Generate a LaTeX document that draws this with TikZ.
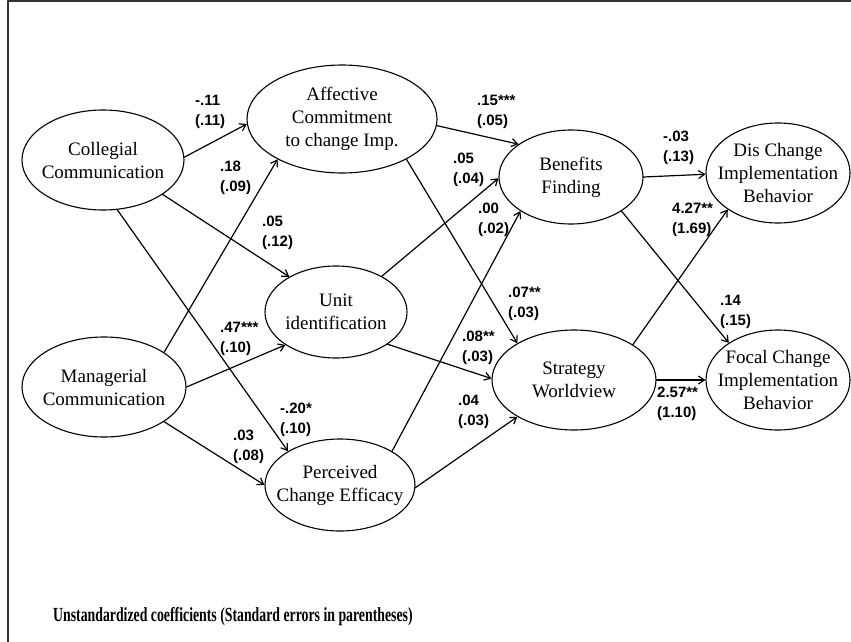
\documentclass[tikz,border=0pt]{standalone}
\usepackage{fontspec}
\setmainfont{Liberation Serif}
\setsansfont{Liberation Sans}
\newfontfamily\notefont[FakeStretch=0.69]{Liberation Serif}
\usetikzlibrary{shapes.geometric,arrows.meta}

\begin{document}
\begin{tikzpicture}[x=1pt,y=1pt,line cap=round,line join=round,
  latent/.style={draw,ellipse,line width=1.1pt,inner sep=-20pt,align=center,
    font=\fontsize{19}{23}\selectfont},
  path/.style={line width=1.2pt,-{Straight Barb[length=6pt,width=8pt]}},
  coef/.style={anchor=west,align=left,inner sep=0pt,
    font=\sffamily\bfseries\fontsize{15}{20}\selectfont}]
  \useasboundingbox (0,0) rectangle (851,-642);
  \draw[line width=2pt,black!80] (8,-642) -- (8,-1.5) -- (851,-1.5);
  % latent variables
  \node[latent,minimum width=162pt,minimum height=100pt] (coll) at (103,-160) {Collegial\\Communication};
  \node[latent,minimum width=164pt,minimum height=100pt] (man) at (104,-387) {Managerial\\Communication};
  \node[latent,minimum width=190pt,minimum height=108pt] (aff) at (342,-119) {Affective\\Commitment\\to change Imp.};
  \node[latent,minimum width=142pt,minimum height=92pt] (unit) at (336,-312) {Unit\\identification};
  \node[latent,minimum width=150pt,minimum height=92pt] (perc) at (340,-485) {Perceived\\Change Efficacy};
  \node[latent,minimum width=144pt,minimum height=94pt] (ben) at (571,-177) {Benefits\\Finding};
  \node[latent,minimum width=164pt,minimum height=100pt] (strat) at (574,-380) {Strategy\\Worldview};
  \node[latent,minimum width=144pt,minimum height=100pt] (dis) at (778,-173) {Dis Change\\Implementation\\Behavior};
  \node[latent,minimum width=144pt,minimum height=100pt] (foc) at (778,-380) {Focal Change\\Implementation\\Behavior};
  % paths
  \draw[path] (coll.2) -- (aff.183);
  \draw[path] (coll.330) -- (unit.143);
  \draw[path] (coll.286) -- (perc.147);
  \draw[path] (man.30) -- (aff.212);
  \draw[path] (man.0) -- (unit.213);
  \draw[path] (man.330) -- (perc.180);
  \draw[path] (aff.356) -- (ben.148);
  \draw[path] (aff.328) -- (strat.147);
  \draw[path] (unit.38) -- (ben.181);
  \draw[path] (unit.328) -- (strat.179);
  \draw[path] (perc.33) -- (ben.214);
  \draw[path] (perc.358) -- (strat.213);
  \draw[path] (ben.0) -- (dis.181);
  \draw[path] (ben.326) -- (foc.143);
  \draw[path] (strat.31) -- (dis.216);
  \draw[path] (strat.0) -- (foc.180);
  % coefficients
  \node[coef] (c-coll-aff) at (195,-112) {-.11\\(.11)};
  \node[coef] (c-man-aff) at (220,-178) {.18\\(.09)};
  \node[coef] (c-coll-unit) at (262,-233) {.05\\(.12)};
  \node[coef] (c-aff-ben) at (477,-112) {.15***\\(.05)};
  \node[coef] (c-unit-ben) at (453,-170) {.05\\(.04)};
  \node[coef] (c-perc-ben) at (478,-220) {.00\\(.02)};
  \node[coef] (c-ben-dis) at (663,-148) {-.03\\(.13)};
  \node[coef] (c-strat-dis) at (672,-220) {4.27**\\(1.69)};
  \node[coef] (c-man-unit) at (220,-339) {.47***\\(.10)};
  \node[coef] (c-coll-perc) at (280,-420) {-.20*\\(.10)};
  \node[coef] (c-man-perc) at (233,-447) {.03\\(.08)};
  \node[coef] (c-aff-strat) at (508,-304) {.07**\\(.03)};
  \node[coef] (c-unit-strat) at (462,-348) {.08**\\(.03)};
  \node[coef] (c-perc-strat) at (458,-412) {.04\\(.03)};
  \node[coef] (c-ben-foc) at (720,-312) {.14\\(.15)};
  \node[coef] (c-strat-foc) at (657,-404) {2.57**\\(1.10)};
  % note
  \node[anchor=base west,inner sep=0pt,font=\notefont\bfseries\fontsize{20}{23}\selectfont] (note) at (53,-621)
    {Unstandardized coefficients (Standard errors in parentheses)};
\end{tikzpicture}
\end{document}
